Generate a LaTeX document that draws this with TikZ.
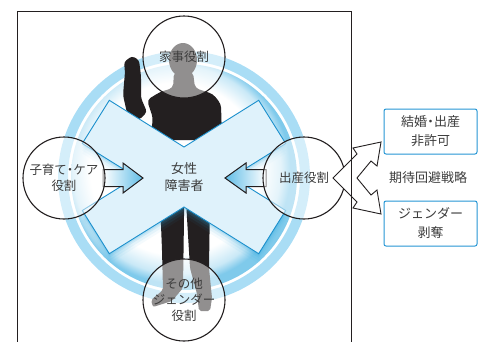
\documentclass[tikz,border=0pt]{standalone}
\usepackage{fontspec}
\newfontfamily\jp{Noto Sans CJK JP}
\definecolor{linedark}{HTML}{231F20}
\definecolor{textgray}{HTML}{3C3C3C}
\definecolor{ringblue}{HTML}{A9DDF5}
\definecolor{glowblue}{HTML}{2AA6DE}
\definecolor{xfill}{HTML}{DFF2FB}
\definecolor{xblue}{HTML}{1A8FCC}
\definecolor{boxblue}{HTML}{2596D4}
\pgfdeclareradialshading{ringglow}{\pgfpoint{-3bp}{3bp}}{color(0bp)=(white); color(19bp)=(white); color(23bp)=(glowblue!25); color(25bp)=(glowblue!60); color(50bp)=(glowblue!60)}
\newcommand\crossoutline{(109.3,100.3) -- (184,147) -- (258.7,100.3) -- (285.7,143.5) -- (232,177) -- (285.7,210.5) -- (258.7,253.7) -- (184,207) -- (109.3,253.7) -- (82.3,210.5) -- (136,177) -- (82.3,143.5) -- cycle}

\begin{document}
\begin{tikzpicture}[x=1pt,y=-1pt,
  role/.style={circle,draw=linedark,line width=1.1pt,fill=white,fill opacity=0.5,text opacity=1,
    minimum size=82pt,inner sep=0pt,align=center,text=textgray,font=\jp\fontsize{12.5}{16}\selectfont},
  result/.style={draw=boxblue,line width=1pt,rounded corners=2pt,fill=white,minimum width=93pt,
    minimum height=45pt,align=center,text=textgray,font=\jp\fontsize{13}{19}\selectfont},
  label/.style={text=textgray,align=center,font=\jp\fontsize{13}{17}\selectfont},
  blockarrow/.style={draw=linedark,line width=1pt}]
\useasboundingbox (0,0) rectangle (488,341);

% glow and ring
\shade[shading=ringglow] (184,177) circle (113);
\fill[ringblue,even odd rule] (184,177) circle (126) circle (116);

% figure
\fill[linedark] (183,60) ellipse (14 and 17);
\fill[linedark,rounded corners=4pt] (174,72) -- (193,72) -- (195,88) -- (213,94) -- (221,104)
  -- (222,140) -- (150,140) -- (153,118) -- (147,100) -- (160,92) -- (173,88) -- cycle;
\fill[linedark,rounded corners=3pt] (124,62) -- (132,56) -- (139,60) -- (141,76) -- (141,98)
  -- (147,112) -- (139,120) -- (127,113) -- (123,95) -- (125,72) -- cycle;
\fill[linedark,rounded corners=2pt] (160,200) -- (184,200) -- (184,218) -- (183,288) -- (172,301)
  -- (153,307) -- (151,300) -- (163,290) -- (162,250) -- cycle;
\fill[linedark,rounded corners=2pt] (186,200) -- (210,200) -- (209,268) -- (212,298) -- (210,311)
  -- (199,311) -- (197,294) -- (190,268) -- (187,218) -- cycle;

% cross
\foreach \d/\o in {10/0.05,7/0.08,4/0.12,2/0.15}
  \fill[glowblue,opacity=\o,shift={(0,\d)}] \crossoutline;
\filldraw[fill=xfill,draw=xblue,line width=0.9pt] \crossoutline;
\node[label] (woman) at (184,177) {女性\\障害者};

\filldraw[blockarrow,left color=white,right color=glowblue!75] (103,169.5) -- (123,169.5) -- (123,163)
  -- (143,178) -- (123,193) -- (123,186.5) -- (103,186.5) -- cycle;
\filldraw[blockarrow,left color=glowblue!75,right color=white] (266,169.5) -- (246,169.5) -- (246,163)
  -- (225,178) -- (246,193) -- (246,186.5) -- (266,186.5) -- cycle;

% roles
\node[role] (house) at (184,57) {家事役割};
\node[role] (care) at (64,178) {子育て\kern-3pt・\kern-3pt ケア\\役割};
\node[role] (birth) at (304,178) {出産役割};
\node[role] (other) at (184,300) {その他\\ジェンダー\\役割};

% strategies
\filldraw[fill=white,draw=linedark,line width=0.9pt] (333,178) -- (357,154) -- (353,148) -- (381,142)
  -- (377,166) -- (371,161) -- (357,178) -- (371,195) -- (377,190) -- (381,214) -- (353,208)
  -- (357,202) -- cycle;
\node[result] (marry) at (430.5,131.5) {結婚\kern-3pt・\kern-3pt 出産\\非許可};
\node[result] (strip) at (430.5,223.5) {ジェンダー\\剥奪};
\node[label] (avoid) at (428,178) {期待回避戦略};

\draw[linedark,line width=1pt] (17,345) -- (17,11) -- (351,11) -- (351,345);
\end{tikzpicture}
\end{document}
